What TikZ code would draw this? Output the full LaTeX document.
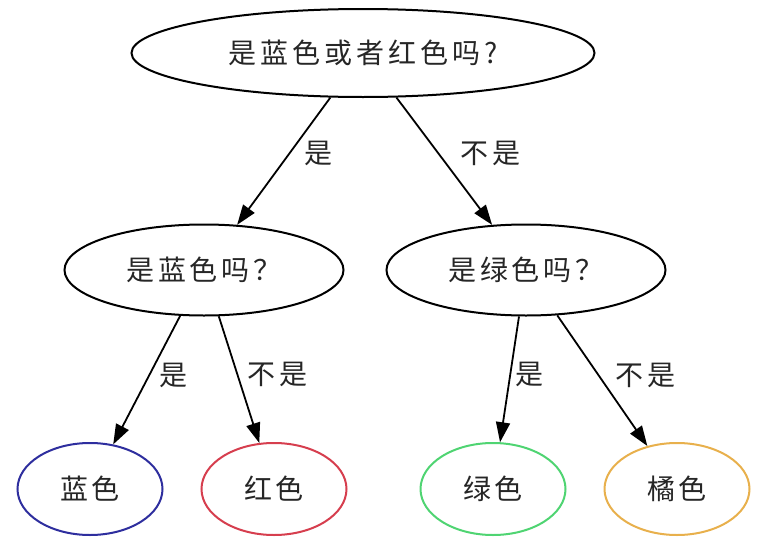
\documentclass[tikz,border=0pt]{standalone}
\usepackage{fontspec}
\newfontfamily\cjk{Noto Sans CJK SC}[LetterSpace=14]
\usepackage{tikz}
\usetikzlibrary{shapes.geometric, arrows.meta, positioning}
\definecolor{leafblue}{HTML}{2E2E9E}
\definecolor{leafred}{HTML}{D63E4E}
\definecolor{leafgreen}{HTML}{4FD472}
\definecolor{leaforange}{HTML}{E8B04C}

\begin{document}
\begin{tikzpicture}[
    x=1pt, y=-1pt,
    every node/.style={font=\cjk\fontsize{28}{30}\selectfont, text=black!85},
    question/.style={draw, ellipse, line width=2pt, inner sep=0pt, minimum height=91pt},
    leaf/.style={question, minimum width=145pt, minimum height=92pt},
    arrow/.style={-{Triangle[length=20pt, width=14pt]}, line width=1.8pt},
    lbl/.style={inner sep=0pt}
]
\useasboundingbox (0,0) rectangle (763,538);

\node[question, minimum width=463pt, minimum height=88pt] (q1) at (363,53) {是蓝色或者红色吗?};
\node[question, minimum width=279pt] (q2) at (204,270) {是蓝色吗？};
\node[question, minimum width=279pt] (q3) at (526,270) {是绿色吗？};

\node[leaf, draw=leafblue] (blue) at (90,489) {蓝色};
\node[leaf, draw=leafred] (red) at (274,489) {红色};
\node[leaf, draw=leafgreen] (green) at (493,489) {绿色};
\node[leaf, draw=leaforange] (orange) at (677,489) {橘色};

\draw[arrow] (q1) -- node[lbl, pos=0.44, right=14pt] {是} (q2);
\draw[arrow] (q1) -- node[lbl, pos=0.44, right=21pt] {不是} (q3);
\draw[arrow] (q2) -- node[lbl, pos=0.46, right=9pt] {是} (blue);
\draw[arrow] (q2) -- node[lbl, pos=0.46, right=9pt] {不是} (red);
\draw[arrow] (q3) -- node[lbl, pos=0.46, right=4pt] {是} (green);
\draw[arrow] (q3) -- node[lbl, pos=0.46, right=16pt] {不是} (orange);
\end{tikzpicture}
\end{document}
